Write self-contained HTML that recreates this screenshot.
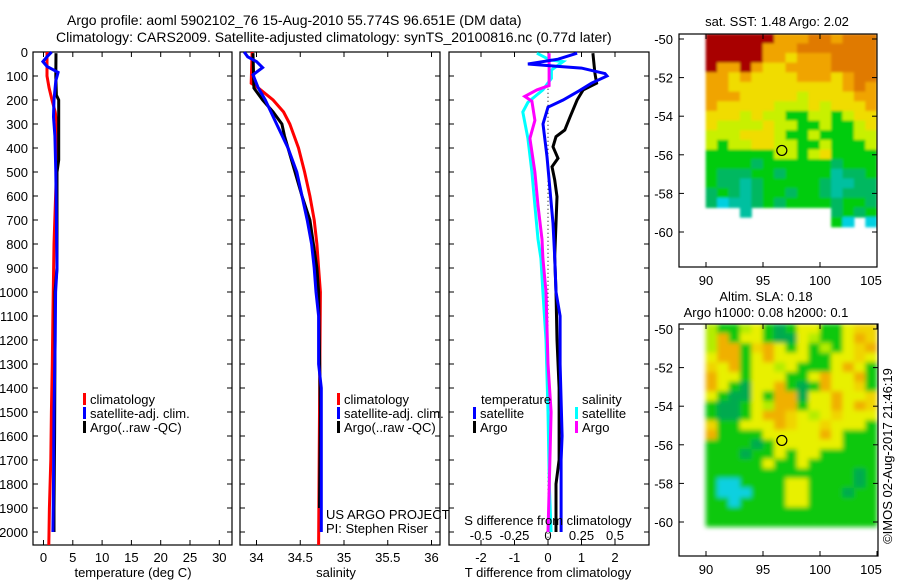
<!DOCTYPE html>
<html><head><meta charset="utf-8">
<style>
html,body{margin:0;padding:0;background:#fff;}
body{width:900px;height:580px;overflow:hidden;position:relative;font-family:"Liberation Sans",sans-serif;}
svg{position:absolute;left:0;top:0;}
text{font-family:"Liberation Sans",sans-serif;font-size:13px;fill:#000;}
</style></head>
<body>
<svg id="chart" width="900" height="580" viewBox="0 0 900 580">
<defs>
<clipPath id="clipTop"><rect x="679" y="34" width="198" height="233"/></clipPath>
<clipPath id="clipBot"><rect x="679" y="324" width="199" height="232"/></clipPath>
<filter id="blurSla"><feGaussianBlur stdDeviation="2.5"/></filter>
<filter id="blurSst"><feGaussianBlur stdDeviation="1.2"/></filter>
</defs>
<text x="67" y="25" style="font-size:14px">Argo profile: aoml 5902102_76 15-Aug-2010 55.774S 96.651E (DM data)</text>
<text x="56" y="42" style="font-size:14px">Climatology: CARS2009. Satellite-adjusted climatology: synTS_20100816.nc (0.77d later)</text>
<g id="g"></g>
</svg>
<script>
// ---- depth grids and profile values ----
const tempClimDepth = [0,100,150,200,250,300,500,800,1100,1300,1500,1700,1900,2054];
const tempClim      = [0.6,0.6,0.95,1.45,2.0,2.3,2.2,1.8,1.6,1.5,1.35,1.25,1.0,0.9];
const tempSatDepth  = [0,20,40,60,85,120,200,270,350,500,900,1000,1200,1500,1800,2000];
const tempSat       = [1.4,0.6,-0.1,0.6,2.5,2.1,1.8,1.7,1.95,2.1,2.3,2.07,2.0,1.8,1.7,1.6];
const tempArgoDepth = [5,100,180,200,300,450,500,900,1000,1300,1600,1900,2000];
const tempArgo      = [2.13,2.1,2.2,2.6,2.6,2.6,2.3,2.3,1.97,1.95,1.9,1.8,1.8];

const salClimDepth = [0,130,150,200,250,300,400,500,600,700,800,900,1000,1500,2054];
const salClim      = [33.95,33.94,34.02,34.19,34.31,34.38,34.48,34.55,34.61,34.66,34.69,34.71,34.73,34.72,34.71];
const salSatDepth  = [0,20,40,65,95,150,200,300,400,500,600,700,800,900,1000,1100,1300,1400,2000];
const salSat       = [33.86,33.9,34.0,34.07,33.96,34.02,34.1,34.23,34.36,34.46,34.52,34.58,34.63,34.66,34.68,34.71,34.71,34.74,34.74];
const salArgoDepth = [5,150,200,250,300,350,400,450,500,600,700,800,900,1000,1500,1900];
const salArgo      = [33.96,33.97,34.07,34.19,34.29,34.32,34.36,34.4,34.44,34.52,34.61,34.65,34.69,34.71,34.73,34.72];

const dTArgoDepth = [5,88,130,158,200,270,325,353,395,443,478,533,603,714,853,1000,1200,1400,1700,1800,2000];
const dTArgo      = [1.34,1.4,1.45,1.05,0.87,0.66,0.5,0.24,0.15,0.3,0.12,0.2,0.27,0.24,0.2,0.24,0.27,0.33,0.33,0.24,0.24];
const dTSatDepth  = [5,30,50,60,67,90,100,130,160,200,230,300,436,575,714,853,1000,1100,1300,1600,1700,2000];
const dTSat       = [0.87,0.3,-0.6,0.3,1.0,1.7,1.76,1.3,0.95,0.45,0.0,-0.15,-0.03,0.06,0.15,0.2,0.24,0.36,0.36,0.42,0.39,0.39];
const dSSatDepth  = [5,33,40,75,110,158,210,250,360,500,640,780,860,1000,1200,1500,1800,2000];
const dSSat       = [-0.083,0.015,0.113,0.025,0.025,-0.038,-0.15,-0.188,-0.15,-0.12,-0.098,-0.075,-0.053,-0.038,-0.015,0,0.01,0.023];
const dSArgoDepth = [5,140,158,185,205,285,360,500,640,780,860,1000,1300,1500,1800,2000];
const dSArgo      = [0.008,0.008,-0.083,-0.173,-0.12,-0.098,-0.135,-0.098,-0.075,-0.045,-0.038,-0.015,0,0.023,0.01,0];

const depthTicks = [0,100,200,300,400,500,600,700,800,900,1000,1100,1200,1300,1400,1500,1600,1700,1800,1900,2000];
const tempTicks = [0,5,10,15,20,25,30];
const salTicks = [34,34.5,35,35.5,36];
const salTickLabels = ["34","34.5","35","35.5","36"];
const dTTicks = [-2,-1,0,1,2];
const dSTicks = [-0.5,-0.25,0,0.25,0.5];
const latTicks = [-50,-52,-54,-56,-58,-60];
const lonTicks = [90,95,100,105];

const sstGrid = [
"RRRRRRoooOOoOOO","RRRRRoooOOOOOOO","RRRRRooYoooOOOO","RooRoYYooooOOOO",
"ooYoYYYYoooYoOO","ooYYYYYYYYYYoOo","oooYYYYYyYYYYoo","oYYYYYyyyYyYYYo",
"YYYyYyyGGyyGyYY","YyyyyYyyGGyGGyY","yyyYYYyGGyGGGyy","yGyyYYyyGGyGGGy",
"GGGGGGyyGyYGGGG","GGGGgGGGGGGgGGG","GgggGGgGGGGTggG","GggTgGGGGGgTTgg",
"gGgTgGGgGGgTggg","gCTTgGgGGGGgGGg","WWWTWWWWWWWgGgG","WWWWWWWWWWWGCWCg","WWWWWWWWWWWWWWWW"];
const sstColors = {R:"#a80000",O:"#e07a00",o:"#f0a400",Y:"#f0dc00",y:"#c8f000",G:"#00cc10",g:"#00b860",T:"#00c0a0",C:"#00d0e0",W:"none"};
const slaGrid = [
"yGGyYGgGYYGGYoo","yOGYYGggYyGGYOo","yOOGoOYGYGyGYoO","YOOGYOYYYGGYYoY",
"oYOGYYyYGGGYOYG","OYYGYYYGGYOYYOG","OYGgYYOGgGOYYoG","YGggYGOOgYYOYYo",
"GggGYyOOGYYOYOo","GggGYOOoYyYoYYY","oGGYYYOoYYoYYYG","OGGGGYYYYYOYGGG",
"GGGGgGYYYYYYGGG","GGGgGGYGYYGGGGG","GGGGGYGGYGGGGGG","GGGGGGGGGGGGGgG",
"GCCGGGGYYGGGGgG","GCCCGGGYYGGGgGG","GGCGGGGYYGGGGGG","GGGGGGGGGGGGGGG","GGGGGGGGGGGGGGG"];
const slaColors = {Y:"#e8f000",y:"#b4ec00",G:"#10c810",g:"#00aa50",O:"#f0b000",o:"#f0d400",C:"#10d0e0"};

const NS="http://www.w3.org/2000/svg";
const g=document.getElementById('g');
function el(tag,attrs,parent){const e=document.createElementNS(NS,tag);for(const k in attrs)e.setAttribute(k,attrs[k]);(parent||g).appendChild(e);return e;}
function txt(x,y,s,anchor,parent,extra){const e=el('text',Object.assign({x:x,y:y,'text-anchor':anchor||'start'},extra||{}),parent);e.textContent=s;return e;}

const yD = d => 52 + 0.24*d;
const xT = t => 43.5 + 5.86*t;
const xS = s => 256.5 + 87.5*(s-34);
const xDT = d => 548 + 33.5*d;
const xDS = d => 548 + 134*d;
const TOP=52, BOT=545;

function panel(x0,x1,name){
  const r=el('rect',{x:x0,y:TOP,width:x1-x0,height:BOT-TOP,fill:'none',stroke:'#000','stroke-width':1.2});
  
  
  depthTicks.forEach(d=>{
    el('line',{x1:x0,x2:x0+5,y1:yD(d),y2:yD(d),stroke:'#000'});
    el('line',{x1:x1,x2:x1-5,y1:yD(d),y2:yD(d),stroke:'#000'});
  });
}
function series(depths,vals,xf,color,name,w){
  const pts=depths.map((d,i)=>xf(vals[i]).toFixed(1)+','+yD(d).toFixed(1)).join(' ');
  const p=el('polyline',{points:pts,fill:'none',stroke:color,'stroke-width':w||3,'stroke-linejoin':'miter'});
  
  
}

panel(33,232,'temperature-panel');
depthTicks.forEach(d=>{const t=txt(28,yD(d)+5,String(d),'end');});
tempTicks.forEach(v=>{el('line',{x1:xT(v),x2:xT(v),y1:BOT,y2:BOT-5,stroke:'#000'});el('line',{x1:xT(v),x2:xT(v),y1:TOP,y2:TOP+5,stroke:'#000'});const t=txt(xT(v),562,String(v),'middle');});
{const t=txt(133,577,'temperature (deg C)','middle');}
series(tempClimDepth,tempClim,xT,'#ff0000','temperature-climatology-line');
series(tempArgoDepth,tempArgo,xT,'#000','temperature-argo-line');
series(tempSatDepth,tempSat,xT,'#0000ff','temperature-satellite-line');

panel(240,440,'salinity-panel');
salTicks.forEach((v,i)=>{el('line',{x1:xS(v),x2:xS(v),y1:BOT,y2:BOT-5,stroke:'#000'});el('line',{x1:xS(v),x2:xS(v),y1:TOP,y2:TOP+5,stroke:'#000'});const t=txt(xS(v),562,salTickLabels[i],'middle');});
{const t=txt(336,577,'salinity','middle');}
series(salClimDepth,salClim,xS,'#ff0000','salinity-climatology-line');
series(salArgoDepth,salArgo,xS,'#000','salinity-argo-line');
series(salSatDepth,salSat,xS,'#0000ff','salinity-satellite-line');

panel(449,649,'difference-panel');
{const l=el('line',{x1:548,x2:548,y1:yD(120),y2:BOT,stroke:'#000','stroke-dasharray':'1,3'});}
dTTicks.forEach(v=>{el('line',{x1:xDT(v),x2:xDT(v),y1:BOT,y2:BOT-5,stroke:'#000'});el('line',{x1:xDT(v),x2:xDT(v),y1:TOP,y2:TOP+5,stroke:'#000'});const t=txt(xDT(v),562,String(v),'middle');});
dSTicks.forEach(v=>{const t=txt(xDS(v),540,String(v),'middle');});
{const t=txt(548,577,'T difference from climatology','middle');}
series(dSSatDepth,dSSat,xDS,'#00ffff','salinity-satellite-difference-line');
series(dSArgoDepth,dSArgo,xDS,'#ff00ff','salinity-argo-difference-line');
series(dTArgoDepth,dTArgo,xDT,'#000','temperature-argo-difference-line');
series(dTSatDepth,dTSat,xDT,'#0000ff','temperature-satellite-difference-line');
{const t=txt(548,525,'S difference from climatology','middle');}

function legendEntry(x,y,color,label,name){
  const grp=el('g',{});
  
  
  el('rect',{x:x,y:y-11,width:3,height:12,fill:color},grp);
  txt(x+7,y,label,'start',grp);
}
legendEntry(83,404,'#ff0000','climatology','legend-climatology');
legendEntry(83,418,'#0000ff','satellite-adj. clim.','legend-satellite-adj');
legendEntry(83,432,'#000','Argo(..raw -QC)','legend-argo');
legendEntry(337,404,'#ff0000','climatology','legend-climatology-salinity');
legendEntry(337,418,'#0000ff','satellite-adj. clim.','legend-satellite-adj-salinity');
legendEntry(337,432,'#000','Argo(..raw -QC)','legend-argo-salinity');
{const t=txt(481,404,'temperature');}
{const t=txt(582,404,'salinity');}
legendEntry(473,418,'#0000ff','satellite','legend-temperature-satellite');
legendEntry(473,432,'#000','Argo','legend-temperature-argo');
legendEntry(575,418,'#00ffff','satellite','legend-salinity-satellite');
legendEntry(575,432,'#ff00ff','Argo','legend-salinity-argo');
{const t=txt(326,519,'US ARGO PROJECT');}
{const t=txt(326,533,'PI: Stephen Riser');}

function mapPanel(fx0,fy0,fx1,fy1,lat50y,lat60y,dataTop,grid,colors,clip,blur,name){
  const lonX = lon => 706 + (lon-90)*(171/15);
  const latY = lat => lat50y + (-50-lat)*(lat60y-lat50y)/10;
  const grp=el('g',{'clip-path':'url(#'+clip+')'});
  
  
  const inner=el('g',{filter:'url(#'+blur+')'},grp);
  const rowH=(latY(-50.5)-latY(-50));
  grid.forEach((row,r)=>{
    for(let c=0;c<row.length&&c<15;c++){
      const col=colors[row[c]];
      if(!col||col==='none')continue;
      el('rect',{x:lonX(90+c)-0.3,y:dataTop+r*rowH-0.3,width:171/15+0.6,height:rowH+0.6,fill:col},inner);
    }
  });
  const fr=el('rect',{x:fx0,y:fy0,width:fx1-fx0,height:fy1-fy0,fill:'none',stroke:'#000','stroke-width':1.2});
  
  
  latTicks.forEach(v=>{el('line',{x1:fx0,x2:fx0+5,y1:latY(v),y2:latY(v),stroke:'#000'});el('line',{x1:fx1,x2:fx1-5,y1:latY(v),y2:latY(v),stroke:'#000'});const t=txt(fx0-6,latY(v)+5,String(v),'end');});
  lonTicks.forEach(v=>{el('line',{x1:lonX(v),x2:lonX(v),y1:fy1,y2:fy1-5,stroke:'#000'});el('line',{x1:lonX(v),x2:lonX(v),y1:fy0,y2:fy0+5,stroke:'#000'});const t=txt(lonX(v)-(v===105?6:0),fy1+18,String(v),'middle');});
  const c=el('circle',{cx:lonX(96.651),cy:latY(-55.774),r:5,fill:'none',stroke:'#000','stroke-width':1.2});
  
  
}
mapPanel(679,34,877,267,39,232,34,sstGrid,sstColors,'clipTop','blurSst','sst-map');
mapPanel(679,324,878,556,329,522,324,slaGrid,slaColors,'clipBot','blurSla','sla-map');
{const t=txt(777,26,'sat. SST: 1.48 Argo: 2.02','middle');}
{const t=txt(766,301,'Altim. SLA: 0.18','middle');}
{const t=txt(766,317,'Argo h1000: 0.08 h2000: 0.1','middle');}
{const t=txt(0,0,'©IMOS 02-Aug-2017 21:46:19','middle',g,{transform:'translate(892,456) rotate(-90)'});}
</script>
</body></html>
